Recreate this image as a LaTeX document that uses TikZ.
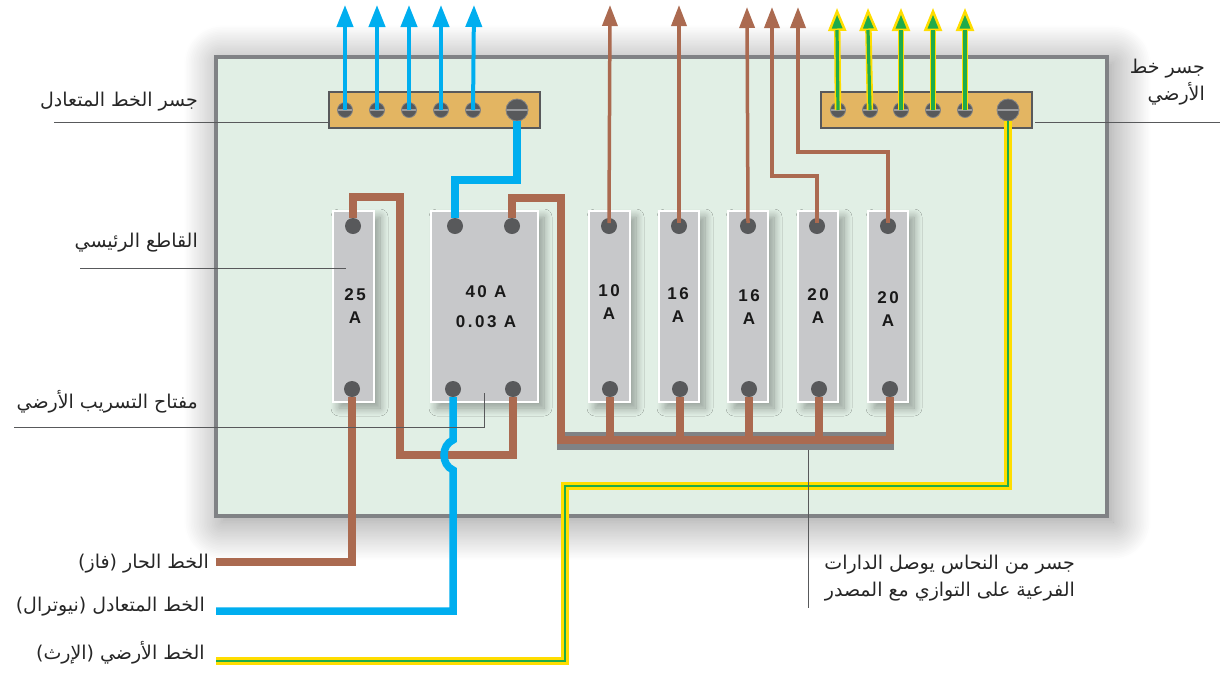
\documentclass[tikz,border=0pt]{standalone}
\usepackage{fontspec}
\usetikzlibrary{arrows.meta,shadows.blur}
\TeXXeTstate=1
\newfontfamily\arabicfont[Script=Arabic]{DejaVu Sans}
\newfontfamily\ratingfont[LetterSpace=15]{Liberation Sans}
\newcommand{\artext}[1]{\arabicfont\beginR #1\endR}
\definecolor{panelgreen}{HTML}{E1EFE5}
\definecolor{panelgray}{HTML}{808285}
\definecolor{barorange}{HTML}{E3B562}
\definecolor{screwgray}{HTML}{58595B}
\definecolor{breakergray}{HTML}{C7C8CA}
\definecolor{livebrown}{HTML}{AB6A50}
\definecolor{neutralblue}{HTML}{00AEEF}
\definecolor{earthyellow}{HTML}{FFDD00}
\definecolor{earthgreen}{HTML}{1FAB4B}
\tikzset{
  panel/.style={draw=panelgray, line width=4pt, fill=panelgreen, inner sep=0pt, outer sep=0pt,
    minimum width=891pt, minimum height=459pt,
    blur shadow={shadow xshift=6pt, shadow yshift=-6pt, shadow blur radius=38pt, shadow blur steps=24, shadow opacity=45}},
  termbar/.style={draw=screwgray, line width=2pt, fill=barorange, inner sep=0pt, outer sep=0pt,
    minimum width=211pt, minimum height=36pt},
  breaker/.style={draw=white, line width=2pt, fill=breakergray, inner sep=0pt, outer sep=0pt,
    minimum height=191pt,
    blur shadow={shadow xshift=6pt, shadow yshift=-6pt, shadow blur radius=8pt, shadow blur steps=12, shadow opacity=35}},
  bridgebar/.style={fill=panelgray, inner sep=0pt, outer sep=0pt, minimum width=337pt, minimum height=18pt},
  stud/.style={circle, fill=screwgray, inner sep=0pt, outer sep=0pt, minimum size=16pt},
  screw/.style={circle, fill=screwgray, draw=panelgray, line width=.8pt, inner sep=0pt, outer sep=0pt, minimum size=#1,
    path picture={\draw[panelgray!80!white, line width=1.5pt] (path picture bounding box.west) -- (path picture bounding box.east);}},
  screw/.default=15pt,
  livewire/.style={draw=livebrown, line width=7.5pt},
  liveup/.style={draw=livebrown, line width=3.5pt, -{Triangle[length=21pt,width=15pt]}},
  neutralwire/.style={draw=neutralblue, line width=7.5pt},
  neutralup/.style={draw=neutralblue, line width=4pt, -{Triangle[length=22pt,width=16pt]}},
  earthwire/.style={draw=earthyellow, line width=8pt},
  earthcore/.style={draw=earthgreen, line width=1.5pt},
  earthup/.style={draw=earthyellow, line width=6.5pt, -{Triangle[length=23pt,width=18pt,fill=earthgreen,line width=2.5pt]}},
  earthupcore/.style={draw=earthgreen, line width=3.2pt},
  leader/.style={draw=screwgray, line width=1pt},
  rating/.style={font=\ratingfont\bfseries\fontsize{17}{23}\selectfont, align=center, text=black!90, inner sep=0pt},
  callout/.style={font=\fontsize{19}{27}\selectfont, text=black!85, inner sep=0pt, align=right},
}
\begin{document}
\begin{tikzpicture}[x=1pt,y=-1pt]
\useasboundingbox (0,0) rectangle (1226,673);
\node[panel] (panel) at (661.5,286.5){};

% terminal bars
\node[termbar] (nbar) at (434.5,110){};
\node[termbar] (ebar) at (926.5,110){};
\node[screw] (ns0) at (345,110){};
\node[screw] (ns1) at (377,110){};
\node[screw] (ns2) at (409,110){};
\node[screw] (ns3) at (441,110){};
\node[screw] (ns4) at (473,110){};
\node[screw=22pt] (nmain) at (517,110){};
\node[screw] (es0) at (838,110){};
\node[screw] (es1) at (870,110){};
\node[screw] (es2) at (901,110){};
\node[screw] (es3) at (933,110){};
\node[screw] (es4) at (965,110){};
\node[screw=22pt] (emain) at (1008,110){};

% breakers
\node[breaker, minimum width=41pt] (b25) at (353.5,306.5){};
\node[breaker, minimum width=107pt] (b40) at (484.5,306.5){};
\node[breaker, minimum width=41pt] (b10) at (609.5,306.5){};
\node[breaker, minimum width=40pt] (b16a) at (679,306.5){};
\node[breaker, minimum width=40pt] (b16b) at (748,306.5){};
\node[breaker, minimum width=40pt] (b20a) at (818,306.5){};
\node[breaker, minimum width=40pt] (b20b) at (888,306.5){};
\node[rating] (t25) at (355,306){25\\A};
\node[rating] (t40) at (486,307){40 A\\[7pt]0.03 A};
\node[rating] (t10) at (609,302){10\\A};
\node[rating] (t16a) at (678,305){16\\A};
\node[rating] (t16b) at (749,307){16\\A};
\node[rating] (t20a) at (818,306){20\\A};
\node[rating] (t20b) at (888,309){20\\A};
\node[stud] (top25) at (353,226){};
\node[stud] (top40l) at (455,226){};
\node[stud] (top40r) at (512,226){};
\node[stud] (top10) at (609,226){};
\node[stud] (top16a) at (679,226){};
\node[stud] (top16b) at (748,226){};
\node[stud] (top20a) at (817,226){};
\node[stud] (top20b) at (888,226){};
\node[stud] (bot25) at (352,389){};
\node[stud] (bot40l) at (453,389){};
\node[stud] (bot40r) at (513,389){};
\node[stud] (bot10) at (610,389){};
\node[stud] (bot16a) at (680,389){};
\node[stud] (bot16b) at (749,389){};
\node[stud] (bot20a) at (819,389){};
\node[stud] (bot20b) at (890,389){};

% free ends
\coordinate (livein) at (216,562);
\coordinate (neutralin) at (216,611);
\coordinate (earthin) at (216,661);
\coordinate (hopa) at (453,440);
\coordinate (hopb) at (453,470);
\coordinate (busl) at (557,440);
\coordinate (busr) at (894,440);

% bridge
\node[bridgebar] (bus) at (725.5,441){};
\draw[livewire] (busl) -- (busr);
\draw[livewire] (bot10) -- (bot10 |- busl);
\draw[livewire] (bot16a) -- (bot16a |- busl);
\draw[livewire] (bot16b) -- (bot16b |- busl);
\draw[livewire] (bot20a) -- (bot20a |- busl);
\draw[livewire] (bot20b) -- (bot20b |- busl);

% live wires
\draw[livewire] (top25.north) -- (353,197) -- (400,197) -- (400,455) -- (513,455) -- (bot40r.south);
\draw[livewire] (top40r.north) -- (512,198) -- (561,198) -- (561,440);
\draw[livewire] (bot25.south) |- (livein);
\coordinate (lu0) at (610,5);
\coordinate (lu1) at (679,5);
\coordinate (lu2) at (747,7);
\coordinate (lu3) at (772,7);
\coordinate (lu4) at (798,7);
\draw[liveup] (top10.center) ++(0,-3) -- (lu0);
\draw[liveup] (top16a.center) ++(0,-3) -- (lu1);
\draw[liveup] (top16b.center) ++(0,-3) -- (lu2);
\draw[liveup] (top20a.center) ++(0,-3) |- (772,176) -- (lu3);
\draw[liveup] (top20b.center) ++(0,-3) |- (798,152) -- (lu4);

% neutral wires
\draw[neutralwire] (nmain.south) |- (455,180) -- (top40l.north);
\draw[neutralwire] (bot40l.south) -- (hopa) .. controls (441,445) and (441,465) .. (hopb) -- (453,611) -- (neutralin);
\coordinate (nu0) at (345,5);
\coordinate (nu1) at (377,5);
\coordinate (nu2) at (409,5);
\coordinate (nu3) at (441,5);
\coordinate (nu4) at (474,5);
\draw[neutralup] (ns0.center) -- (nu0);
\draw[neutralup] (ns1.center) -- (nu1);
\draw[neutralup] (ns2.center) -- (nu2);
\draw[neutralup] (ns3.center) -- (nu3);
\draw[neutralup] (ns4.center) -- (nu4);

% earth wires
\draw[earthwire] (emain.south) |- (565,486) -- (565,661) -- (earthin);
\draw[earthcore] (emain.south) |- (565,486) -- (565,661) -- (earthin);
\coordinate (eu0) at (837,8);
\coordinate (eu1) at (868,8);
\coordinate (eu2) at (901,8);
\coordinate (eu3) at (933,8);
\coordinate (eu4) at (965,8);
\draw[earthup] (es0.center) -- (eu0);
\draw[earthup] (es1.center) -- (eu1);
\draw[earthup] (es2.center) -- (eu2);
\draw[earthup] (es3.center) -- (eu3);
\draw[earthup] (es4.center) -- (eu4);
\draw[earthupcore] (es0.center) -- (837,30);
\draw[earthupcore] (es1.center) -- (868,30);
\draw[earthupcore] (es2.center) -- (901,30);
\draw[earthupcore] (es3.center) -- (933,30);
\draw[earthupcore] (es4.center) -- (965,30);

% leaders
\coordinate (ld0) at (54,122);
\coordinate (ld1) at (1220,122);
\coordinate (ld2) at (80,268);
\coordinate (ld3) at (346,268);
\coordinate (ld4) at (14,427);
\coordinate (ld5) at (484,393);
\coordinate (ld6) at (808,608);
\draw[leader] (ld0) -- (nbar.west |- ld0);
\draw[leader] (ebar.east |- ld1) ++(3,0) -- (ld1);
\draw[leader] (ld2) -- (ld3);
\draw[leader] (ld4) -| (ld5);
\draw[leader] (bus.south -| ld6) -- (ld6);

% labels
\node[callout, anchor=east] (lneutral) at (198,102){\artext{جسر الخط المتعادل}};
\node[callout, anchor=east] (learth) at (1205,82){\artext{جسر خط}\\\artext{الأرضي}};
\node[callout, anchor=east] (lmain) at (198,243){\artext{القاطع الرئيسي}};
\node[callout, anchor=east] (lrcd) at (198,402){\artext{مفتاح التسريب الأرضي}};
\node[callout, anchor=east] (lbridge) at (1075,578){\artext{جسر من النحاس يوصل الدارات}\\\artext{الفرعية على التوازي مع المصدر}};
\node[callout, anchor=east] (llive) at (209,564){\artext{الخط الحار (فاز)}};
\node[callout, anchor=east] (lneu) at (205,607){\artext{الخط المتعادل (نيوترال)}};
\node[callout, anchor=east] (lear) at (205,653){\artext{الخط الأرضي (الإرث)}};
\end{tikzpicture}
\end{document}
